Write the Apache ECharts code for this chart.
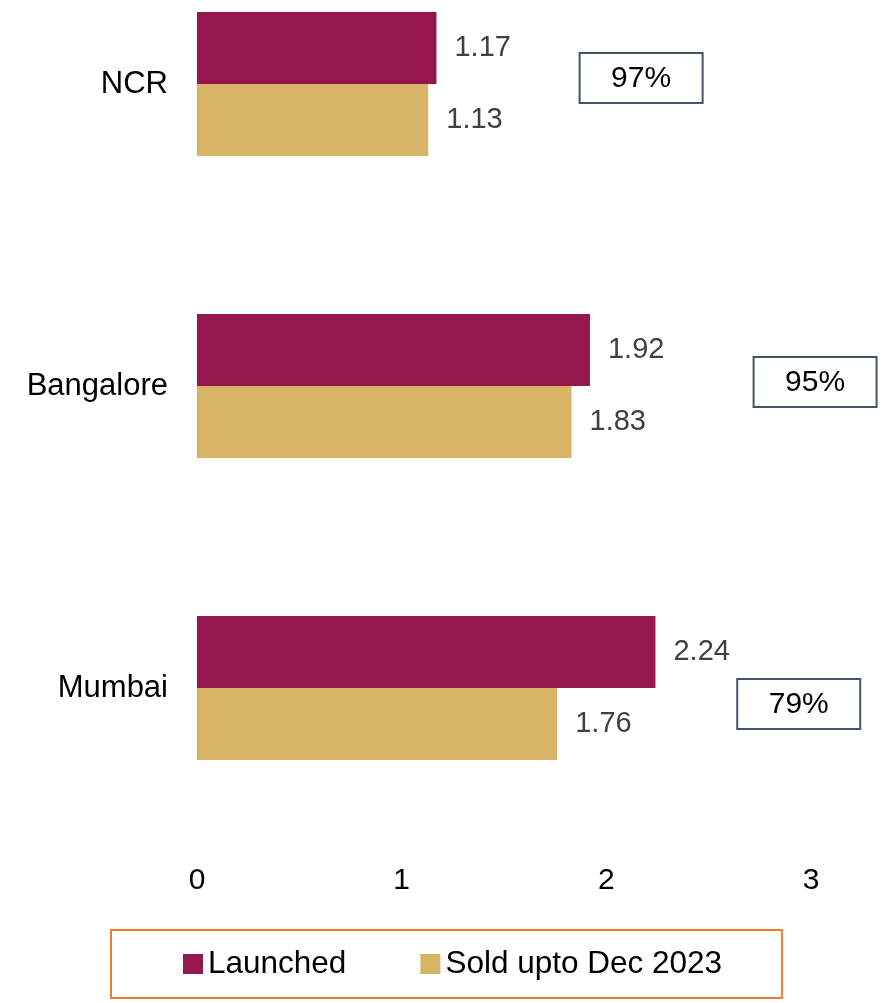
<!DOCTYPE html>
<html>
<head>
<meta charset="utf-8">
<script src="https://cdn.jsdelivr.net/npm/echarts@6/dist/echarts.min.js"></script>
<style>
html,body{margin:0;padding:0;background:#fff;}
#chart{width:884px;height:1003px;}
</style>
</head>
<body>
<div id="chart"></div>
<script>
const categories = ['Mumbai', 'Bangalore', 'NCR'];
const launched = [2.24, 1.92, 1.17];
const sold = [1.76, 1.83, 1.13];
const seriesNames = ['Launched', 'Sold upto Dec 2023'];
const xTicks = [0, 1, 2, 3];
// annotation box anchors (x in axis units, y offset in px from category centre)
const boxX = [2.94, 3.02, 2.17];
const boxDy = [16, -4, -6];

const FONT = '"Liberation Sans", Arial, sans-serif';
const chart = echarts.init(document.getElementById('chart'), null, {renderer: 'canvas'});

const option = {
  animation: false,
  backgroundColor: '#ffffff',
  textStyle: {fontFamily: FONT},
  grid: {left: 197, right: 73, top: -67, height: 906, containLabel: false, outerBoundsMode: 'none'},
  xAxis: {
    type: 'value', min: xTicks[0], max: xTicks[xTicks.length - 1], interval: 1,
    axisLine: {show: false}, axisTick: {show: false}, splitLine: {show: false},
    axisLabel: {fontSize: 30, color: '#000', margin: 27, fontFamily: FONT}
  },
  yAxis: {
    type: 'category', data: categories,
    axisLine: {show: false}, axisTick: {show: false},
    axisLabel: {fontSize: 31, color: '#000', margin: 29, fontFamily: FONT}
  },
  legend: {
    data: seriesNames,
    left: 111, top: 930,
    padding: [18, 60, 18, 72],
    borderColor: '#EE7B30', borderWidth: 2,
    itemWidth: 20, itemHeight: 20, itemGap: 74,
    icon: 'rect',
    textStyle: {fontSize: 31.5, color: '#000', fontFamily: FONT, padding: [0, 0, 0, 0]}
  },
  series: [
    {
      name: seriesNames[0], type: 'bar', data: launched,
      barWidth: 72, barGap: '0%',
      itemStyle: {color: '#96174E'},
      label: {show: true, position: 'right', distance: 18, fontSize: 29, color: '#404040', fontFamily: FONT}
    },
    {
      name: seriesNames[1], type: 'bar', data: sold,
      barWidth: 72, barGap: '0%',
      itemStyle: {color: '#D8B467'},
      label: {show: true, position: 'right', distance: 18, fontSize: 29, color: '#404040', fontFamily: FONT}
    }
  ]
};
chart.setOption(option);

function drawBoxes() {
  const els = [];
  categories.forEach((c, i) => {
    const p = chart.convertToPixel({gridIndex: 0}, [boxX[i], i]);
    const ratio = Math.round(sold[i] / launched[i] * 100) + '%';
    const w = 123, h = 50;
    els.push({
      type: 'rect',
      shape: {x: p[0] - w / 2, y: p[1] + boxDy[i] - h / 2, width: w, height: h},
      style: {fill: '#fff', stroke: '#44546A', lineWidth: 2}
    });
    els.push({
      type: 'text',
      x: p[0], y: p[1] + boxDy[i] + 1,
      style: {text: ratio, fontSize: 30, fontFamily: FONT, fill: '#000', align: 'center', verticalAlign: 'middle'}
    });
  });
  chart.setOption({graphic: els});
}
drawBoxes();
</script>
</body>
</html>
